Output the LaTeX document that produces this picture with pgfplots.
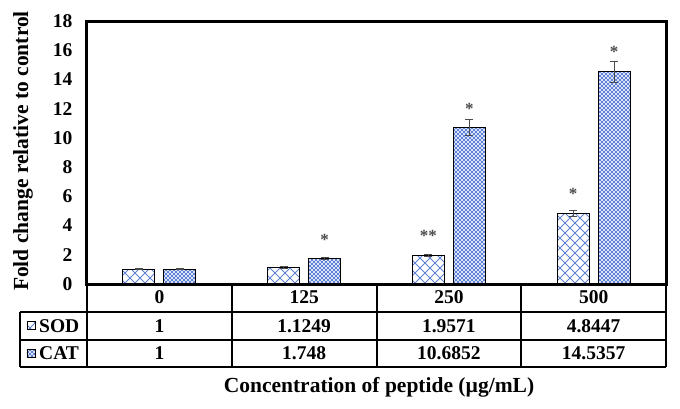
\documentclass[border=0pt]{standalone}
\usepackage{pgfplots}
\pgfplotsset{compat=1.18}
\usepackage{pgfplotstable}
\usetikzlibrary{patterns,patterns.meta}
\usepackage{fontspec}
\setmainfont{Liberation Serif}
\definecolor{patblue}{RGB}{95,130,215}
\definecolor{errgray}{RGB}{75,75,75}

\pgfdeclarepattern{
  name=bigdiamond, type=uncolored,
  bottom left={\pgfpoint{-.5pt}{-.5pt}},
  top right={\pgfpoint{10.5pt}{10.5pt}},
  tile size={\pgfpoint{10pt}{10pt}},
  code={
    \pgfsetlinewidth{1pt}
    \pgfpathmoveto{\pgfpoint{0pt}{0pt}}\pgfpathlineto{\pgfpoint{10pt}{10pt}}
    \pgfpathmoveto{\pgfpoint{0pt}{10pt}}\pgfpathlineto{\pgfpoint{10pt}{0pt}}
    \pgfusepath{stroke}
  }
}
\pgfdeclarepattern{
  name=smalldiamond, type=uncolored,
  bottom left={\pgfpoint{-.5pt}{-.5pt}},
  top right={\pgfpoint{4.5pt}{4.5pt}},
  tile size={\pgfpoint{4pt}{4pt}},
  code={
    \pgfsetlinewidth{0.75pt}
    \pgfpathmoveto{\pgfpoint{0pt}{0pt}}\pgfpathlineto{\pgfpoint{4pt}{4pt}}
    \pgfpathmoveto{\pgfpoint{0pt}{4pt}}\pgfpathlineto{\pgfpoint{4pt}{0pt}}
    \pgfusepath{stroke}
  }
}

\pgfplotstableread{
x sod sode cat cate
0 1      0.03 1       0.03
1 1.1249 0.05 1.748   0.08
2 1.9571 0.07 10.6852 0.55
3 4.8447 0.20 14.5357 0.72
}\data

\newcommand{\tf}{\fontsize{19.5}{19.5}\selectfont\bfseries}
\newcommand{\lf}{\fontsize{21.5}{21.5}\selectfont\bfseries}

\begin{document}
\begin{tikzpicture}
\useasboundingbox (-87pt,-124pt) rectangle (593pt,284pt);
\begin{axis}[
  at={(0,0)}, anchor=south west,
  scale only axis, width=579pt, height=263pt,
  ymin=0, ymax=18, ytick={0,2,...,18},
  xmin=-0.5, xmax=3.5, xtick=\empty,
  ybar=9pt, bar width=32pt,
  axis line style={line width=3pt},
  major tick length=0pt,
  tick label style={font=\tf},
  yticklabel style={xshift=-11pt},
  /pgf/number format/assume math mode=true,
  clip=false,
]
\addplot[draw=black, line width=1.1pt, pattern=bigdiamond, pattern color=patblue,
  error bars/.cd, y dir=both, y explicit,
  error bar style={errgray, line width=1.1pt},
  error mark options={rotate=90, mark size=4pt, errgray, line width=1.1pt}]
  table[x=x, y=sod, y error=sode]{\data};
\addplot[draw=black, line width=1.1pt, pattern=smalldiamond, pattern color=patblue,
  error bars/.cd, y dir=both, y explicit,
  error bar style={errgray, line width=1.1pt},
  error mark options={rotate=90, mark size=4pt, errgray, line width=1.1pt}]
  table[x=x, y=cat, y error=cate]{\data};
\node[errgray, font=\fontsize{17}{17}\selectfont\bfseries] at (axis cs:1,3.0) [xshift=20.5pt] {*};
\node[errgray, font=\fontsize{17}{17}\selectfont\bfseries] at (axis cs:2,3.3) [xshift=-20.5pt] {**};
\node[errgray, font=\fontsize{17}{17}\selectfont\bfseries] at (axis cs:2,12.0) [xshift=20.5pt] {*};
\node[errgray, font=\fontsize{17}{17}\selectfont\bfseries] at (axis cs:3,6.2) [xshift=-20.5pt] {*};
\node[errgray, font=\fontsize{17}{17}\selectfont\bfseries] at (axis cs:3,15.9) [xshift=20.5pt] {*};
\end{axis}
\node[font=\lf, rotate=90] at (-64pt,133pt) {Fold change relative to control};
% data table
\begin{scope}[line width=2pt]
\draw (0,0) -- (0,-83pt);
\draw (144.75pt,0) -- (144.75pt,-83pt);
\draw (289.5pt,0) -- (289.5pt,-83pt);
\draw (434.25pt,0) -- (434.25pt,-83pt);
\draw (579pt,0) -- (579pt,-83pt);
\draw (-67pt,-28pt) -- (579pt,-28pt);
\draw (-67pt,-55.5pt) -- (579pt,-55.5pt);
\draw (-67pt,-83pt) -- (579pt,-83pt);
\draw (-67pt,-28pt) -- (-67pt,-83pt);
\end{scope}
\foreach \c/\l in {0/0,1/125,2/250,3/500}
  \node[font=\tf] at ({72.375pt+\c*144.75pt},-13.5pt) {\l};
\foreach \c/\l in {0/1,1/1.1249,2/1.9571,3/4.8447}
  \node[font=\tf] at ({72.375pt+\c*144.75pt},-42pt) {\l};
\foreach \c/\l in {0/1,1/1.748,2/10.6852,3/14.5357}
  \node[font=\tf] at ({72.375pt+\c*144.75pt},-69.5pt) {\l};
\draw[line width=0.9pt, pattern=bigdiamond, pattern color=patblue] (-60pt,-45.5pt) rectangle (-51.5pt,-37pt);
\draw[line width=0.9pt, pattern=smalldiamond, pattern color=patblue] (-60pt,-73.5pt) rectangle (-51.5pt,-65pt);
\node[font=\tf, anchor=west, inner sep=0pt] at (-48pt,-42pt) {SOD};
\node[font=\tf, anchor=west, inner sep=0pt] at (-48pt,-69.5pt) {CAT};
\node[font=\lf, anchor=base, inner sep=0pt] at (292pt,-108pt) {Concentration of peptide (µg/mL)};
\end{tikzpicture}
\end{document}
